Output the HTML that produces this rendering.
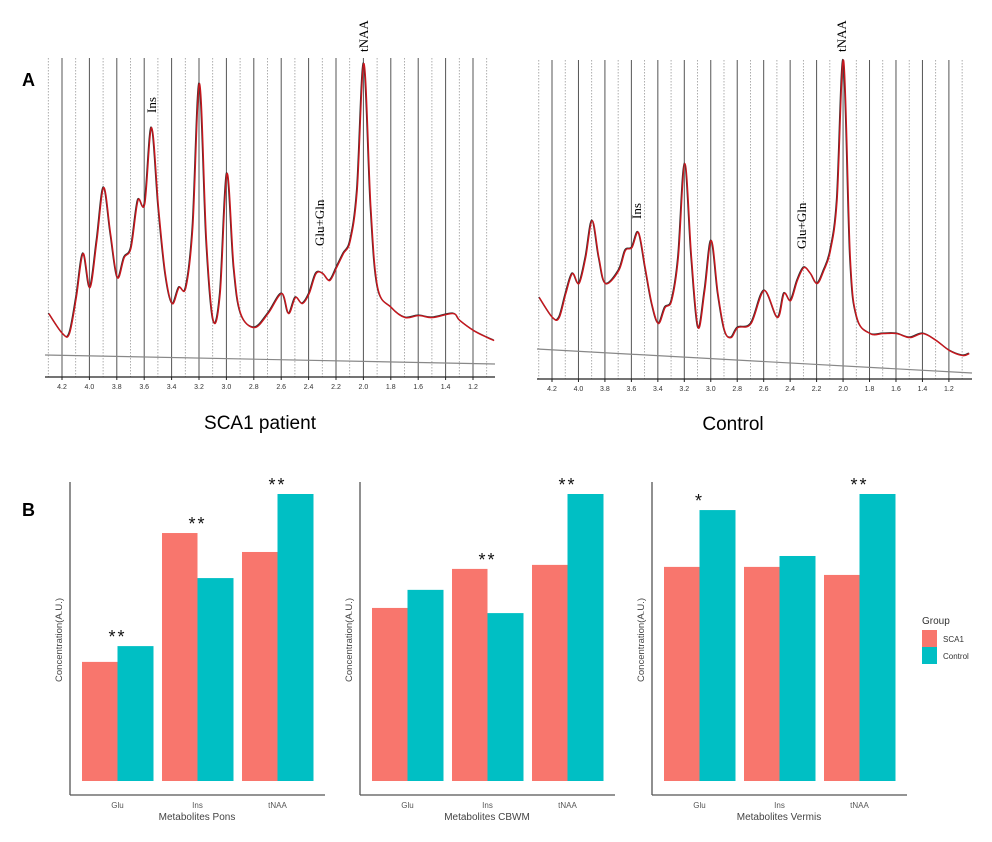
<!DOCTYPE html>
<html><head><meta charset="utf-8"><style>
body{margin:0;background:#fff;width:992px;height:842px;overflow:hidden;font-family:"Liberation Sans",sans-serif}
svg{position:absolute;left:0;top:0}
</style></head><body>
<svg id="fig" width="992" height="842">
<text x="22" y="86" font-size="18" font-weight="bold">A</text>
<text x="22" y="516" font-size="18" font-weight="bold">B</text>
<text x="260" y="429" font-size="19" text-anchor="middle">SCA1 patient</text>
<text x="733" y="430" font-size="19" text-anchor="middle">Control</text>
</svg>
<script>
const ppmSCA=[4.3,4.2,4.15,4.1,4.05,4.0,3.95,3.9,3.85,3.8,3.75,3.7,3.65,3.6,3.55,3.5,3.45,3.4,3.35,3.3,3.25,3.2,3.15,3.1,3.05,3.0,2.95,2.9,2.8,2.7,2.6,2.55,2.5,2.45,2.4,2.35,2.3,2.25,2.2,2.15,2.1,2.05,2.0,1.95,1.9,1.8,1.7,1.6,1.5,1.35,1.3,1.2,1.1,1.05];
const intSCA=[64,44,44,80,124,90,137,190,144,100,120,130,177,174,250,170,104,74,90,90,150,294,137,57,84,204,110,64,50,64,84,64,80,74,84,104,104,97,110,124,137,187,314,170,90,70,60,62,60,64,57,47,40,37];
const ppmCtl=[4.3,4.2,4.15,4.1,4.05,4.0,3.95,3.9,3.85,3.8,3.7,3.65,3.6,3.55,3.5,3.45,3.4,3.35,3.3,3.25,3.2,3.15,3.1,3.05,3.0,2.95,2.9,2.85,2.8,2.7,2.6,2.5,2.45,2.4,2.35,2.3,2.25,2.2,2.15,2.1,2.05,2.0,1.95,1.9,1.8,1.7,1.6,1.5,1.4,1.3,1.2,1.1,1.05];
const intCtl=[82,62,62,86,106,96,122,159,122,96,109,129,132,147,112,76,56,72,79,122,216,122,52,89,139,86,49,42,52,56,89,62,86,79,99,112,106,96,109,129,179,319,122,62,46,46,46,42,46,39,29,24,26];
const ppmTicks=["4.2","4.0","3.8","3.6","3.4","3.2","3.0","2.8","2.6","2.4","2.2","2.0","1.8","1.6","1.4","1.2"];
const categories=["Glu","Ins","tNAA"];
const ponsSCA=[41.5,86.4,79.8], ponsCtl=[47,70.7,100];
const cbwmSCA=[60.3,73.9,75.3], cbwmCtl=[66.6,58.5,100];
const vermSCA=[74.6,74.6,71.8], vermCtl=[94.4,78.4,100];
const ponsStars=["**","**","**"], cbwmStars=["","**","**"], vermStars=["*","","**"];

const NS="http://www.w3.org/2000/svg";
const svg=document.getElementById('fig');
function mk(tag,attrs,parent){const e=document.createElementNS(NS,tag);for(const k in attrs)e.setAttribute(k,attrs[k]);(parent||svg).appendChild(e);return e;}

function spectrum(cfg,ppm,ints,name){
  const g=mk('g',{});
  
  
  const X=p=>cfg.x42+(4.2-p)*cfg.k;
  const Y=v=>cfg.axisY-v;
  for(let i=0;i<=32;i++){
    const p=4.3-i*0.1; const x=X(p);
    const solid=(i%2===1);
    const l=mk('line',{x1:x,x2:x,y1:cfg.top,y2:cfg.axisY,stroke:solid?'#555':'#999','stroke-width':solid?1:0.8,'stroke-dasharray':solid?'':'1.5,1.5'},g);
    
    
  }
  const ax=mk('line',{x1:cfg.x0,x2:cfg.x1,y1:cfg.axisY,y2:cfg.axisY,stroke:'#222','stroke-width':1.3},g);
  
  
  ppmTicks.forEach(t=>{
    const x=X(parseFloat(t));
    mk('line',{x1:x,x2:x,y1:cfg.axisY,y2:cfg.axisY+3,stroke:'#222'},g);
    const tx=mk('text',{x:x,y:cfg.axisY+12,'font-size':7,'text-anchor':'middle',fill:'#333'},g);
    tx.textContent=t;
    
    
  });
  const bl=mk('line',{x1:cfg.x0,x2:cfg.x1,y1:cfg.bl0,y2:cfg.bl1,stroke:'#888','stroke-width':1.2},g);
  
  
  const pts=ppm.map((p,i)=>[X(p),Y(ints[i])]);
  let d='M'+pts[0][0]+','+pts[0][1];
  for(let i=0;i<pts.length-1;i++){
    const p0=pts[Math.max(0,i-1)],p1=pts[i],p2=pts[i+1],p3=pts[Math.min(pts.length-1,i+2)];
    const c1=[p1[0]+(p2[0]-p0[0])/6,p1[1]+(p2[1]-p0[1])/6];
    const c2=[p2[0]-(p3[0]-p1[0])/6,p2[1]-(p3[1]-p1[1])/6];
    d+=` C${c1[0]},${c1[1]} ${c2[0]},${c2[1]} ${p2[0]},${p2[1]}`;
  }
  const raw=mk('path',{d:d,fill:'none',stroke:'#333','stroke-width':1.3},g);
  
  
  const fit=mk('path',{d:d,fill:'none',stroke:'#c8161d','stroke-width':1.4,transform:'translate(0.6,0.6)'},g);
  
  
  cfg.labels.forEach(L=>{
    const t=mk('text',{x:0,y:0,'font-size':13,'font-family':'Liberation Serif, serif',transform:`translate(${L[1]},${L[2]}) rotate(-90)`},g);
    t.textContent=L[0];
    
    
  });
}
spectrum({x42:62,k:137,axisY:377,top:58,x0:45,x1:495,bl0:355,bl1:364,
  labels:[["Ins",156,113],["Glu+Gln",324,246],["tNAA",368,52]]},ppmSCA,intSCA,'sca1-spectrum');
spectrum({x42:552,k:132.3,axisY:379,top:60,x0:537,x1:972,bl0:349,bl1:373,
  labels:[["Ins",641,219],["Glu+Gln",806,249],["tNAA",846,52]]},ppmCtl,intCtl,'control-spectrum');

function bars(cfg,sca,ctl,stars,name){
  const g=mk('g',{});
  
  
  const base=781, k=2.87;
  const Y=v=>base-v*k;
  const yax=mk('line',{x1:cfg.ax,x2:cfg.ax,y1:482,y2:795,stroke:'#555','stroke-width':1.3},g);
  
  
  const xax=mk('line',{x1:cfg.ax,x2:cfg.ax+255,y1:795,y2:795,stroke:'#555','stroke-width':1.3},g);
  
  
  categories.forEach((c,i)=>{
    const x0=cfg.ax+12+i*80;
    const r1=mk('rect',{x:x0,y:Y(sca[i]),width:35.5,height:sca[i]*k,fill:'#F8766D'},g);
    
    
    const r2=mk('rect',{x:x0+35.5,y:Y(ctl[i]),width:36,height:ctl[i]*k,fill:'#00BFC4'},g);
    
    
    const tl=mk('text',{x:x0+35.5,y:808,'font-size':8,'text-anchor':'middle',fill:'#555'},g);
    tl.textContent=c;
    
    
    if(stars[i]){
      const st=mk('text',{x:x0+35.5,y:Y(Math.max(sca[i],ctl[i]))-3,'font-size':18,'text-anchor':'middle',fill:'#111','letter-spacing':2},g);
      st.textContent=stars[i];
      
      
    }
  });
  const xt=mk('text',{x:cfg.ax+127,y:820,'font-size':10,'text-anchor':'middle',fill:'#444'},g);
  xt.textContent=cfg.title;
  
  
  const yt=mk('text',{x:0,y:0,'font-size':9.5,'text-anchor':'middle',fill:'#444',transform:`translate(${cfg.ax-8},640) rotate(-90)`},g);
  yt.textContent='Concentration(A.U.)';
  
  
}
bars({ax:70,title:'Metabolites Pons'},ponsSCA,ponsCtl,ponsStars,'pons-bar-chart');
bars({ax:360,title:'Metabolites CBWM'},cbwmSCA,cbwmCtl,cbwmStars,'cbwm-bar-chart');
bars({ax:652,title:'Metabolites Vermis'},vermSCA,vermCtl,vermStars,'vermis-bar-chart');

const lg=mk('g',{});


const lt=mk('text',{x:922,y:624,'font-size':10,fill:'#333'},lg);
lt.textContent='Group';


[['SCA1','#F8766D',630],['Control','#00BFC4',647]].forEach(e=>{
  const r=mk('rect',{x:922,y:e[2],width:15,height:17,fill:e[1]},lg);
  
  
  const t=mk('text',{x:943,y:e[2]+12,'font-size':8,fill:'#333'},lg);
  t.textContent=e[0];
  
  
});
</script>
</body></html>
